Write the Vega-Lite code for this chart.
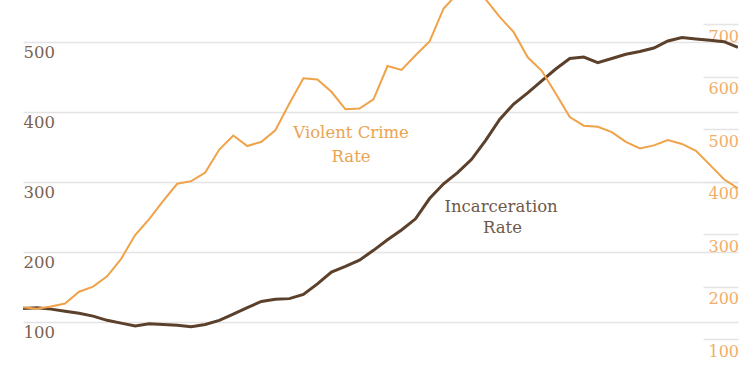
{
  "$schema": "https://vega.github.io/schema/vega-lite/v6.json",
  "width": 715,
  "height": 375,
  "autosize": {"type": "none"},
  "padding": {"left": 23, "right": 12, "top": 0, "bottom": 0},
  "background": "white",
  "config": {"view": {"stroke": null}},
  "datasets": {
    "rates": [
      {"year": 1960, "incarceration": 119, "violent": 160.9},
      {"year": 1961, "incarceration": 120, "violent": 158.1},
      {"year": 1962, "incarceration": 118, "violent": 162.3},
      {"year": 1963, "incarceration": 115, "violent": 168.2},
      {"year": 1964, "incarceration": 112, "violent": 190.6},
      {"year": 1965, "incarceration": 108, "violent": 200.2},
      {"year": 1966, "incarceration": 102, "violent": 220.0},
      {"year": 1967, "incarceration": 98, "violent": 253.2},
      {"year": 1968, "incarceration": 94, "violent": 298.4},
      {"year": 1969, "incarceration": 97, "violent": 328.7},
      {"year": 1970, "incarceration": 96, "violent": 363.5},
      {"year": 1971, "incarceration": 95, "violent": 396.0},
      {"year": 1972, "incarceration": 93, "violent": 401.0},
      {"year": 1973, "incarceration": 96, "violent": 417.4},
      {"year": 1974, "incarceration": 102, "violent": 461.1},
      {"year": 1975, "incarceration": 111, "violent": 487.8},
      {"year": 1976, "incarceration": 120, "violent": 467.8},
      {"year": 1977, "incarceration": 129, "violent": 475.9},
      {"year": 1978, "incarceration": 132, "violent": 497.8},
      {"year": 1979, "incarceration": 133, "violent": 548.9},
      {"year": 1980, "incarceration": 139, "violent": 596.6},
      {"year": 1981, "incarceration": 154, "violent": 594.3},
      {"year": 1982, "incarceration": 171, "violent": 571.1},
      {"year": 1983, "incarceration": 179, "violent": 537.7},
      {"year": 1984, "incarceration": 188, "violent": 539.2},
      {"year": 1985, "incarceration": 202, "violent": 556.6},
      {"year": 1986, "incarceration": 217, "violent": 620.1},
      {"year": 1987, "incarceration": 231, "violent": 612.5},
      {"year": 1988, "incarceration": 247, "violent": 640.6},
      {"year": 1989, "incarceration": 276, "violent": 666.9},
      {"year": 1990, "incarceration": 297, "violent": 729.6},
      {"year": 1991, "incarceration": 313, "violent": 758.2},
      {"year": 1992, "incarceration": 332, "violent": 757.7},
      {"year": 1993, "incarceration": 359, "violent": 747.1},
      {"year": 1994, "incarceration": 389, "violent": 713.6},
      {"year": 1995, "incarceration": 411, "violent": 684.5},
      {"year": 1996, "incarceration": 427, "violent": 636.6},
      {"year": 1997, "incarceration": 444, "violent": 611.0},
      {"year": 1998, "incarceration": 461, "violent": 567.6},
      {"year": 1999, "incarceration": 476, "violent": 523.0},
      {"year": 2000, "incarceration": 478, "violent": 506.5},
      {"year": 2001, "incarceration": 470, "violent": 504.5},
      {"year": 2002, "incarceration": 476, "violent": 494.4},
      {"year": 2003, "incarceration": 482, "violent": 475.8},
      {"year": 2004, "incarceration": 486, "violent": 463.2},
      {"year": 2005, "incarceration": 491, "violent": 469.0},
      {"year": 2006, "incarceration": 501, "violent": 479.3},
      {"year": 2007, "incarceration": 506, "violent": 471.8},
      {"year": 2008, "incarceration": 504, "violent": 458.6},
      {"year": 2009, "incarceration": 502, "violent": 431.9},
      {"year": 2010, "incarceration": 500, "violent": 404.5},
      {"year": 2011, "incarceration": 492, "violent": 387.1}
    ],
    "incLabels": [
      {"label": "Incarceration", "year": 1994.1, "value": 257},
      {"label": "Rate", "year": 1994.2, "value": 226.5}
    ],
    "vioLabels": [
      {"label": "Violent Crime", "year": 1983.4, "value": 483},
      {"label": "Rate", "year": 1983.4, "value": 437.5}
    ]
  },
  "layer": [
    {
      "encoding": {
        "x": {"field": "year", "type": "quantitative", "scale": {"domain": [1960, 2011], "nice": false, "zero": false}, "axis": null}
      },
      "layer": [
        {
          "data": {"name": "rates"},
          "mark": {"type": "line", "color": "#5b402c", "strokeWidth": 3, "clip": true},
          "encoding": {
            "y": {
              "field": "incarceration", "type": "quantitative",
              "scale": {"domain": [23.9, 559.6], "nice": false, "zero": false},
              "axis": {
                "orient": "left", "values": [100, 200, 300, 400, 500], "title": null,
                "domain": false, "ticks": false, "tickSize": 0, "labelPadding": 0,
                "labelAlign": "left", "labelBaseline": "top", "labelOffset": 3,
                "labelFont": "DejaVu Serif", "labelFontSize": 16.5, "labelColor": "#7b6252",
                "grid": true, "gridColor": "#e4e4e4", "gridWidth": 1.5
              }
            }
          }
        },
        {
          "data": {"name": "incLabels"},
          "mark": {"type": "text", "font": "DejaVu Serif", "fontSize": 16.5, "color": "#6e5949", "align": "center", "baseline": "alphabetic"},
          "encoding": {
            "y": {"field": "value", "type": "quantitative"},
            "text": {"field": "label"}
          }
        }
      ]
    },
    {
      "encoding": {
        "x": {"field": "year", "type": "quantitative", "scale": {"domain": [1960, 2011], "nice": false, "zero": false}, "axis": null}
      },
      "layer": [
        {
          "data": {"name": "rates"},
          "mark": {"type": "line", "color": "#f0a248", "strokeWidth": 2, "clip": true},
          "encoding": {
            "y": {
              "field": "violent", "type": "quantitative",
              "scale": {"domain": [32.1, 745.7], "nice": false, "zero": false},
              "axis": {
                "orient": "right", "values": [100, 200, 300, 400, 500, 600, 700], "title": null,
                "domain": false, "offset": -35, "ticks": true, "tickSize": 35, "tickColor": "#e4e4e4", "tickWidth": 1.5,
                "labelPadding": -30, "labelAlign": "left", "labelBaseline": "top", "labelOffset": 4,
                "labelFont": "DejaVu Serif", "labelFontSize": 16, "labelColor": "#f2ad66",
                "grid": false
              }
            }
          }
        },
        {
          "data": {"name": "vioLabels"},
          "mark": {"type": "text", "font": "DejaVu Serif", "fontSize": 16.5, "color": "#eba352", "align": "center", "baseline": "alphabetic"},
          "encoding": {
            "y": {"field": "value", "type": "quantitative"},
            "text": {"field": "label"}
          }
        }
      ]
    }
  ],
  "resolve": {"scale": {"y": "independent"}}
}
